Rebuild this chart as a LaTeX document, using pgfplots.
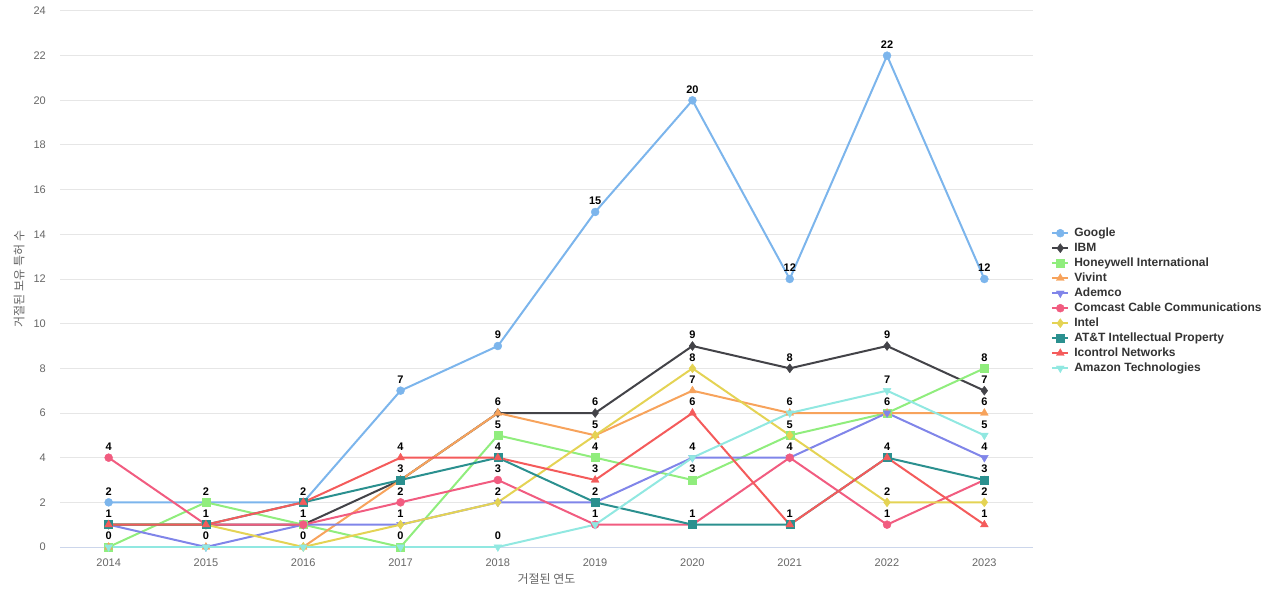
\documentclass[border=0pt]{standalone}
\usepackage{fontspec}
\setmainfont{Liberation Sans}
\newfontfamily\kr{Noto Sans CJK KR}
\usepackage{pgfplots}
\usepackage{pgfplotstable}
\pgfplotsset{compat=1.18}

% Highcharts default palette
\definecolor{cGoogle}{HTML}{7CB5EC}
\definecolor{cIBM}{HTML}{434348}
\definecolor{cHoney}{HTML}{90ED7D}
\definecolor{cVivint}{HTML}{F7A35C}
\definecolor{cAdemco}{HTML}{8085E9}
\definecolor{cComcast}{HTML}{F15C80}
\definecolor{cIntel}{HTML}{E4D354}
\definecolor{cATT}{HTML}{2B908F}
\definecolor{cIcontrol}{HTML}{F45B5B}
\definecolor{cAmazon}{HTML}{91E8E1}
\definecolor{cGrid}{HTML}{E6E6E6}
\definecolor{cAxis}{HTML}{CCD6EB}
\definecolor{cTick}{HTML}{666666}
\definecolor{cLegend}{HTML}{333333}

\pgfplotstableread{
year Google IBM Honeywell Vivint Ademco Comcast Intel ATT Icontrol Amazon
2014 2  1 0 0 1 4 1 1 1 0
2015 2  1 2 0 0 1 1 1 1 0
2016 2  1 1 0 1 1 0 2 2 0
2017 7  3 0 3 1 2 1 3 4 0
2018 9  6 5 6 2 3 2 4 4 0
2019 15 6 4 5 2 1 5 2 3 1
2020 20 9 3 7 4 1 8 1 6 4
2021 12 8 5 6 4 4 5 1 1 6
2022 22 9 6 6 6 1 2 4 4 7
2023 12 7 8 6 4 3 2 3 1 5
}\data

% one data label per distinct value and year (ties share a label)
\pgfplotstableread{
year v
2014 0
2014 1
2014 2
2014 4
2015 0
2015 1
2015 2
2016 0
2016 1
2016 2
2017 0
2017 1
2017 2
2017 3
2017 4
2017 7
2018 0
2018 2
2018 3
2018 4
2018 5
2018 6
2018 9
2019 1
2019 2
2019 3
2019 4
2019 5
2019 6
2019 15
2020 1
2020 3
2020 4
2020 6
2020 7
2020 8
2020 9
2020 20
2021 1
2021 4
2021 5
2021 6
2021 8
2021 12
2022 1
2022 2
2022 4
2022 6
2022 7
2022 9
2022 22
2023 1
2023 2
2023 3
2023 4
2023 5
2023 6
2023 7
2023 8
2023 12
}\labels

\begin{document}
\begin{tikzpicture}
\useasboundingbox (0pt,0pt) rectangle (1280pt,600pt);
\begin{axis}[
    at={(60pt,53pt)}, anchor=south west,
    width=973pt, height=536pt, scale only axis,
    xmin=2013.5, xmax=2023.5, ymin=0, ymax=24,
    xtick={2014,...,2023}, ytick={0,2,...,24},
    /pgf/number format/assume math mode=true,
    xticklabel style={/pgf/number format/1000 sep={}, inner sep=0pt, yshift=-12pt},
    yticklabel style={inner sep=0pt, xshift=-14pt},
    tick label style={font=\fontsize{11}{13}\selectfont, text=cTick},
    major tick length=0pt,
    axis x line*=bottom, axis y line*=left,
    x axis line style={draw=cAxis, line width=1pt, -},
    y axis line style={draw=none},
    ymajorgrids, grid style={cGrid, line width=1pt},
    xlabel={\kr 거절된 연도},
    ylabel={\kr 거절된 보유 특허 수},
    label style={font=\fontsize{12}{14}\selectfont, text=cTick},
    xlabel style={at={(axis description cs:0.5,-0.0597)}, anchor=center},
    ylabel style={at={(axis description cs:-0.0421,0.5)}, anchor=center},
    every axis plot/.append style={line width=2pt},
    legend image code/.code={\draw[mark repeat=2,mark phase=2] plot coordinates {(0pt,0pt)(8pt,0pt)(16pt,0pt)};},
    legend cell align=left,
    legend style={at={(1.0186,0.597)}, anchor=north west, draw=none, fill=none,
        inner sep=0pt, row sep=3pt, column sep=5pt,
        font=\bfseries\fontsize{12}{14}\selectfont, text=cLegend,
        nodes={inner sep=0pt, text height=9pt, text depth=3pt}},
    every node near coord/.style={font=\bfseries\fontsize{11}{13}\selectfont, text=black, inner sep=0pt, anchor=south, yshift=6pt},
]
\addplot[cGoogle, mark=*, mark size=4pt, mark options={fill=cGoogle, line width=0.4pt}] table[x=year,y=Google]{\data};
\addlegendentry{Google}
\addplot[cIBM, mark=diamond*, mark size=4.5pt, mark options={fill=cIBM, line width=0.4pt}] table[x=year,y=IBM]{\data};
\addlegendentry{IBM}
\addplot[cHoney, mark=square*, mark size=4pt, mark options={fill=cHoney, line width=0.4pt}] table[x=year,y=Honeywell]{\data};
\addlegendentry{Honeywell International}
\addplot[cVivint, mark=triangle*, mark size=4.5pt, mark options={fill=cVivint, line width=0.4pt}] table[x=year,y=Vivint]{\data};
\addlegendentry{Vivint}
\addplot[cAdemco, mark=triangle*, mark size=4.5pt, mark options={fill=cAdemco, line width=0.4pt, rotate=180}] table[x=year,y=Ademco]{\data};
\addlegendentry{Ademco}
\addplot[cComcast, mark=*, mark size=4pt, mark options={fill=cComcast, line width=0.4pt}] table[x=year,y=Comcast]{\data};
\addlegendentry{Comcast Cable Communications}
\addplot[cIntel, mark=diamond*, mark size=4.5pt, mark options={fill=cIntel, line width=0.4pt}] table[x=year,y=Intel]{\data};
\addlegendentry{Intel}
\addplot[cATT, mark=square*, mark size=4pt, mark options={fill=cATT, line width=0.4pt}] table[x=year,y=ATT]{\data};
\addlegendentry{AT\&T Intellectual Property}
\addplot[cIcontrol, mark=triangle*, mark size=4.5pt, mark options={fill=cIcontrol, line width=0.4pt}] table[x=year,y=Icontrol]{\data};
\addlegendentry{Icontrol Networks}
\addplot[cAmazon, mark=triangle*, mark size=4.5pt, mark options={fill=cAmazon, line width=0.4pt, rotate=180}] table[x=year,y=Amazon]{\data};
\addlegendentry{Amazon Technologies}
% data labels on top of every line
\addplot[draw=none, mark=none, forget plot, nodes near coords] table[x=year,y=v]{\labels};
\end{axis}
\end{tikzpicture}
\end{document}
